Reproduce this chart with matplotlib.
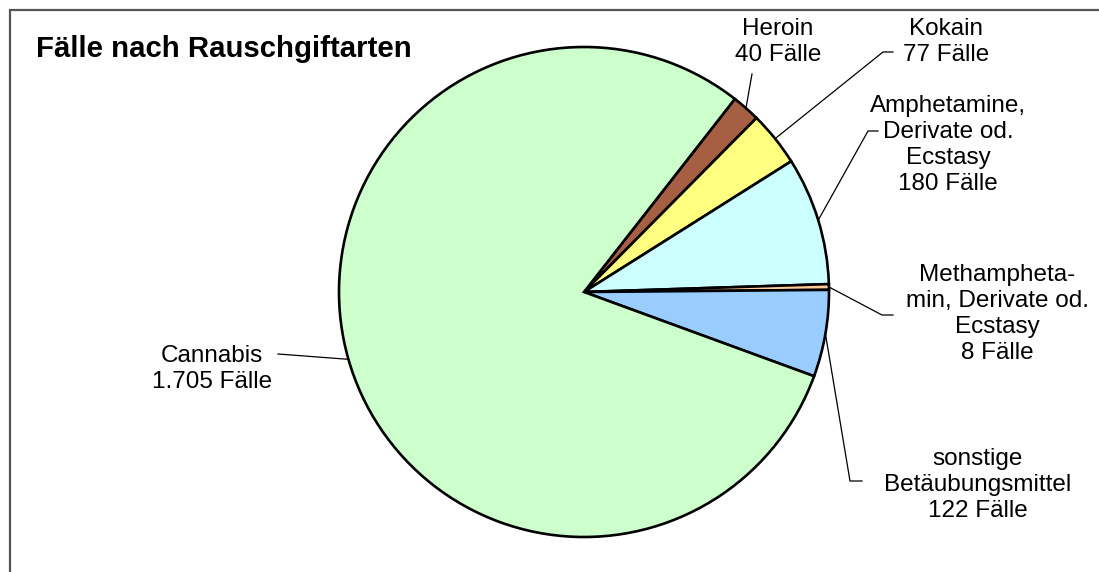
import numpy as np
import matplotlib.pyplot as plt
from matplotlib.patches import Rectangle

plt.rcParams['font.family'] = ['Liberation Sans', 'DejaVu Sans']

# data
categories = ['Heroin', 'Kokain', 'Amphetamine,\nDerivate od.\nEcstasy',
              'Methampheta-\nmin, Derivate od.\nEcstasy', 'sonstige\nBetäubungsmittel', 'Cannabis']
cases = [40, 77, 180, 8, 122, 1705]
case_labels = ['40 Fälle', '77 Fälle', '180 Fälle', '8 Fälle', '122 Fälle', '1.705 Fälle']
colors = ['#A65F42', '#FFFF80', '#CCFFFF', '#FFCC99', '#99CCFF', '#CCFFCC']

W, H = 1099, 572

def Y(y):
    return H - y

fig = plt.figure(figsize=(W / 100, H / 100), dpi=100)
ax = fig.add_axes([0, 0, 1, 1])

# outer frame
ax.add_patch(Rectangle((9.5, Y(1200)), 1200, 1200 - 9.5, fill=False,
                       edgecolor='#555555', linewidth=1.6))

cx, cy, r = 584, Y(292), 245
wedges, _ = ax.pie(cases, colors=colors, startangle=52, counterclock=False,
                   center=(cx, cy), radius=r, frame=True,
                   wedgeprops=dict(edgecolor='black', linewidth=1.9))
ax.set_xlim(0, W)
ax.set_ylim(0, H)
ax.set_aspect('equal')
ax.axis('off')

# label text centers and leader elbows (pixel layout)
label_pos = [(778, 42), (946, 42), (948, 145), (997, 314), (978, 485), (212, 369)]
elbows = [[(752, 74)],
          [(883, 52), (893, 52)],
          [(868, 131), (878, 131)],
          [(882, 315), (893, 315)],
          [(850, 481), (862, 481)],
          [(278, 354)]]

for w, cat, lab, pos, elb in zip(wedges, categories, case_labels, label_pos, elbows):
    mid = np.deg2rad((w.theta1 + w.theta2) / 2)
    x0 = cx + r * np.cos(mid)
    y0 = cy + r * np.sin(mid)
    xs = [x0] + [p[0] for p in elb]
    ys = [y0] + [Y(p[1]) for p in elb]
    ax.plot(xs, ys, color='black', linewidth=0.9)
    ax.text(pos[0], Y(pos[1]), cat + '\n' + lab, ha='center', va='center',
            multialignment='center', fontsize=17.5, linespacing=1.24, color='black')

ax.text(36, Y(57), 'Fälle nach Rauschgiftarten', fontsize=21.2, fontweight='bold',
        ha='left', va='baseline', color='black')

fig.savefig('out.png', dpi=100)
